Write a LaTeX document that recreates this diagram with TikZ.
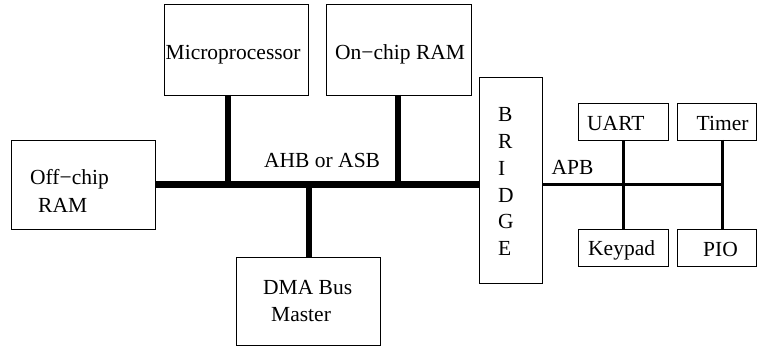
\documentclass[tikz,border=0pt]{standalone}
\usepackage{fontspec}
\setmainfont{Liberation Serif}
\begin{document}
\begin{tikzpicture}[x=1pt,y=-1pt,
  box/.style={draw=black,line width=0.9pt,inner sep=0pt,fill=white},
  txt/.style={anchor=base west,inner sep=0pt,font=\fontsize{21.5}{26}\selectfont},
  bigbus/.style={line width=7pt},
  stem/.style={line width=6.5pt},
  apb/.style={line width=3pt}]
\useasboundingbox (0,0) rectangle (757,347);
% boxes
\node[box,minimum width=144pt,minimum height=91pt] (micro)  at (236,49.5) {};
\node[box,minimum width=145pt,minimum height=91pt] (onchip) at (398.5,49.5) {};
\node[box,minimum width=144pt,minimum height=89pt] (offchip) at (83,185) {};
\node[box,minimum width=144pt,minimum height=88pt] (dma) at (308,301) {};
\node[box,minimum width=63pt,minimum height=206pt] (bridge) at (510.5,180) {};
\node[box,minimum width=90pt,minimum height=37pt] (uart) at (623,121.5) {};
\node[box,minimum width=79pt,minimum height=37pt] (timer) at (716.5,121.5) {};
\node[box,minimum width=90pt,minimum height=37pt] (keypad) at (623,247.5) {};
\node[box,minimum width=79pt,minimum height=37pt] (pio) at (716.5,247.5) {};
% AHB bus
\coordinate (ahbR) at (bridge.west |- offchip.east);
\draw[bigbus] (offchip.east) -- (ahbR);
\coordinate (mtop) at (228,95);
\coordinate (otop) at (398,95);
\coordinate (dtop) at (309,257);
\draw[stem] (mtop) -- (mtop |- offchip.east);
\draw[stem] (otop) -- (otop |- offchip.east);
\draw[stem] (dtop) -- (dtop |- offchip.east);
% APB bus
\coordinate (apbR) at (722,185);
\draw[apb] (bridge.east |- apbR) -- (apbR);
\draw[apb] (uart.south) -- (keypad.north);
\coordinate (ttop) at (722,140);
\coordinate (tbot) at (722,229);
\draw[apb] (ttop) -- (tbot);
% texts
\node[txt] at (165.5,59.5) {Microprocessor};
\node[txt] at (335,59.5) {On−chip RAM};
\node[txt] at (30,185) {Off−chip};
\node[txt] at (38,213) {RAM};
\node[txt] at (263,294) {DMA Bus};
\node[txt] at (271,321) {Master};
\node[txt] at (264,167.5) {AHB or ASB};
\node[txt] at (551.5,175) {APB};
\node[txt] at (587,130.5) {UART};
\node[txt] at (696.5,130.5) {Timer};
\node[txt] at (588,255.7) {Keypad};
\node[txt] at (703,256) {PIO};
\foreach \l [count=\i] in {B,R,I,D,G,E}
  \node[txt] at (498,{122+26.7*(\i-1)}) {\l};
\end{tikzpicture}
\end{document}
